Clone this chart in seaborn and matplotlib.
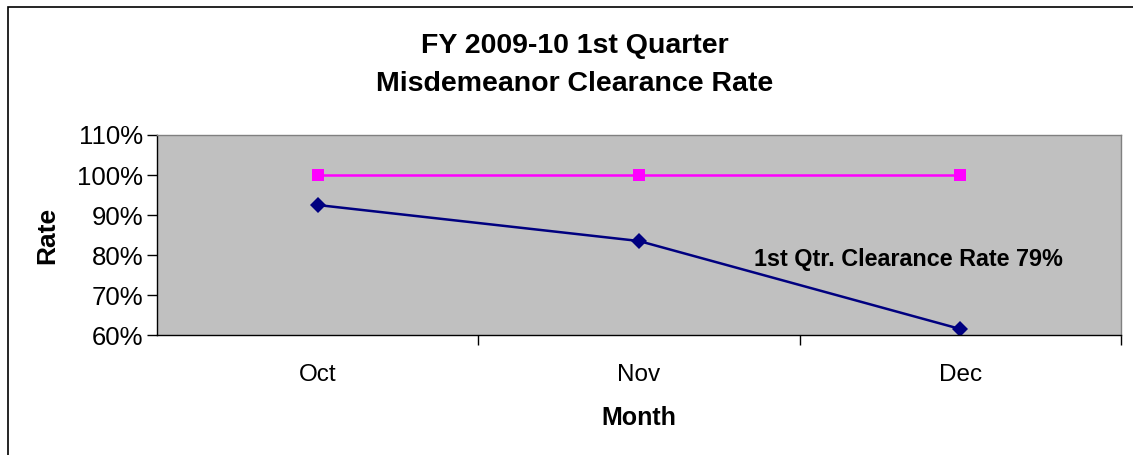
import numpy as np
import pandas as pd
import matplotlib.pyplot as plt
import seaborn as sns
from matplotlib.ticker import FuncFormatter, FixedLocator

months = ["Oct", "Nov", "Dec"]
clearance_rate = [92.5, 83.5, 61.5]
target_rate = [100, 100, 100]
y_ticks = [60, 70, 80, 90, 100, 110]
note = "1st Qtr. Clearance Rate 79%"

sns.set_style("white")
plt.rcParams['font.family'] = ['Liberation Sans', 'DejaVu Sans']
plt.rcParams['text.color'] = 'black'
plt.rcParams['axes.labelcolor'] = 'black'
plt.rcParams['xtick.color'] = 'black'
plt.rcParams['ytick.color'] = 'black'

df = pd.DataFrame({"Month": months, "rate": clearance_rate, "target": target_rate})

fig = plt.figure(figsize=(11.33, 4.55), dpi=100)
ax = fig.add_axes([0.1386, 0.2637, 0.8508, 0.4396])
ax.set_facecolor("#c0c0c0")

sns.lineplot(data=df, x="Month", y="target", ax=ax, color="#ff00ff", lw=1.8,
             marker="s", markersize=8, markeredgewidth=0, sort=False)
sns.lineplot(data=df, x="Month", y="rate", ax=ax, color="#000080", lw=1.8,
             marker="D", markersize=8, markeredgewidth=0, sort=False)

ax.set_xlim(-0.5, 2.5)
ax.set_ylim(60, 110)
ax.set_yticks(y_ticks)
ax.yaxis.set_major_formatter(FuncFormatter(lambda v, p: f"{v:.0f}%"))
ax.tick_params(axis="y", labelsize=18.5, length=7, width=1, direction="out", left=True, pad=3)
ax.set_xticks(range(len(months)))
ax.set_xticklabels(months)
ax.tick_params(axis="x", which="major", labelsize=17.5, length=0, pad=21)
ax.xaxis.set_minor_locator(FixedLocator([0.5, 1.5, 2.5]))
ax.tick_params(axis="x", which="minor", length=7, width=1, direction="out", bottom=True)

for s in ["left", "bottom"]:
    ax.spines[s].set_color("black")
    ax.spines[s].set_linewidth(1)
for s in ["top", "right"]:
    ax.spines[s].set_color("#808080")
    ax.spines[s].set_linewidth(1)

ax.set_xlabel("Month", fontsize=18, fontweight="bold", labelpad=14)
ax.set_ylabel("Rate", fontsize=19, fontweight="bold", labelpad=13)

ax.text(1.84, 79, note, fontsize=16.8, fontweight="bold", ha="center", va="center")

fig.text(0.507, 0.857, "FY 2009-10 1st Quarter\nMisdemeanor Clearance Rate",
         ha="center", va="center", fontsize=20.5, fontweight="bold", linespacing=1.6)

# chart area border (left/top visible, rest cropped)
fig.add_artist(plt.Rectangle((8 / 1133, -0.1), 1.2, 1.1 - 7 / 455, transform=fig.transFigure,
                             fill=False, edgecolor="black", lw=1.2))

fig.savefig("out.png", dpi=100)
